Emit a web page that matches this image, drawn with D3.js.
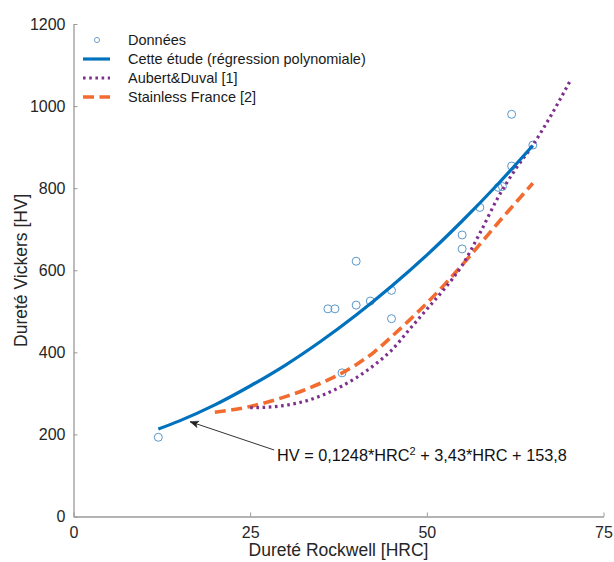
<!DOCTYPE html>
<html>
<head>
<meta charset="utf-8">
<script src="https://cdn.jsdelivr.net/npm/d3@7"></script>
<style>
  html, body { margin: 0; padding: 0; background: #fff; }
  svg { display: block; font-family: "Liberation Sans", Arial, sans-serif; }
</style>
</head>
<body>
<svg id="chart" width="614" height="562"></svg>
<script>
// ---- Data ----
const dataHRC = [12, 36, 37, 38, 40, 40, 42, 45, 45, 55, 55, 57.5, 60.1, 60.7, 62, 62, 65];
const dataHV  = [193, 506, 506, 350, 622, 515, 525, 551, 482, 686, 652, 753, 802, 804, 854, 980, 905];

// Cette étude (régression polynomiale)
const fitHRC = [12, 15, 20, 25, 30, 35, 40, 45, 50, 55, 60, 65];
const fitHV  = [213, 233, 272, 318, 369, 427, 491, 561, 637, 720, 809, 904];

// Aubert&Duval [1]
const adHRC = [25, 28, 30, 33, 35, 38, 40, 43, 45, 47.5, 50, 52.5, 55, 57.5, 60, 62.5, 65, 67.5, 70.2];
const adHV  = [265, 267, 271, 282, 294, 318, 338, 375, 405, 455, 505, 555, 612, 690, 775, 845, 905, 975, 1059];

// Stainless France [2]
const sfHRC = [20, 22.5, 25, 27.5, 30, 32.5, 35, 37.5, 40, 42.5, 45, 47.5, 50, 52.5, 55, 57.5, 60, 62.5, 65];
const sfHV  = [254, 260, 268, 279, 292, 307, 325, 345, 370, 400, 438, 478, 520, 565, 613, 663, 714, 763, 812];

const xTicks = [0, 25, 50, 75];
const yTicks = [0, 200, 400, 600, 800, 1000, 1200];

const legendLabels = ["Données", "Cette étude (régression polynomiale)", "Aubert&Duval [1]", "Stainless France [2]"];
const xLabel = "Dureté Rockwell [HRC]";
const yLabel = "Dureté Vickers [HV]";
const annotation = { hrcTip: 16.5, hvTip: 231, hrcStart: 28.4, hvStart: 162 };

// ---- Chart ----
const svg = d3.select("#chart");
const x = d3.scaleLinear().domain([0, 75]).range([73.5, 603.5]);
const y = d3.scaleLinear().domain([0, 1200]).range([516.5, 24]);

const axisColor = "#9a9a9a";
const textColor = "#262626";

// X axis
const gx = svg.append("g").attr("transform", `translate(0,${y(0)})`)
  .call(d3.axisBottom(x).tickValues(xTicks).tickFormat(d3.format("d")).tickSizeInner(-4).tickSizeOuter(0).tickPadding(10));
// Y axis
const gy = svg.append("g").attr("transform", `translate(${x(0)},0)`)
  .call(d3.axisLeft(y).tickValues(yTicks).tickFormat(d3.format("d")).tickSizeInner(-4).tickSizeOuter(0).tickPadding(8));

[gx, gy].forEach(g => {
  g.select(".domain").attr("stroke", axisColor).attr("stroke-width", 1.3);
  g.selectAll(".tick line").attr("stroke", axisColor).attr("stroke-width", 1);
  g.selectAll(".tick text").attr("fill", textColor).style("font-size", "16px")
    .style("font-family", "'Liberation Sans', Arial, sans-serif");
});

// Axis labels
svg.append("text").attr("x", (x(0) + x(75)) / 2).attr("y", 556)
  .attr("text-anchor", "middle").attr("fill", textColor).style("font-size", "17.5px").text(xLabel);
svg.append("text").attr("transform", `translate(27,${(y(0) + y(1200)) / 2}) rotate(-90)`)
  .attr("text-anchor", "middle").attr("fill", textColor).style("font-size", "17.5px").text(yLabel);

// Lines
const line = (xs, ys) => d3.line().curve(d3.curveMonotoneX)
  .x((d, i) => x(xs[i])).y((d, i) => y(ys[i]))(xs);

const fitStyle = { stroke: "#0072BD", width: 3.2, dash: null, cap: "butt" };
const adStyle = { stroke: "#7E2F8E", width: 3.2, dash: "2.6,3.6", cap: "butt" };
const sfStyle = { stroke: "#F26B2F", width: 3.6, dash: "11,5.5", cap: "butt" };

function drawPath(d, s) {
  const p = svg.append("path").attr("d", d).attr("fill", "none")
    .attr("stroke", s.stroke).attr("stroke-width", s.width).attr("stroke-linecap", s.cap);
  if (s.dash) p.attr("stroke-dasharray", s.dash);
  return p;
}

// Data points
svg.append("g").selectAll("circle").data(dataHRC).join("circle")
  .attr("cx", (d, i) => x(dataHRC[i])).attr("cy", (d, i) => y(dataHV[i]))
  .attr("r", 4).attr("fill", "none").attr("stroke", "#5a97c9").attr("stroke-width", 1);

drawPath(line(sfHRC, sfHV), sfStyle);
drawPath(line(adHRC, adHV), adStyle);
drawPath(line(fitHRC, fitHV), fitStyle);

// Annotation arrow
const ax0 = x(annotation.hrcStart), ay0 = y(annotation.hvStart);
const ax1 = x(annotation.hrcTip), ay1 = y(annotation.hvTip);
svg.append("line").attr("x1", ax0).attr("y1", ay0).attr("x2", ax1).attr("y2", ay1)
  .attr("stroke", "#333").attr("stroke-width", 1);
const ang = Math.atan2(ay0 - ay1, ax0 - ax1);
const hl = 9, hw = 0.38;
const hp = [
  [ax1 + hl * Math.cos(ang + hw), ay1 + hl * Math.sin(ang + hw)],
  [ax1, ay1],
  [ax1 + hl * Math.cos(ang - hw), ay1 + hl * Math.sin(ang - hw)],
  [ax1 + hl * 0.7 * Math.cos(ang), ay1 + hl * 0.7 * Math.sin(ang)]
];
svg.append("path").attr("d", "M" + hp.map(p => p.join(",")).join("L") + "Z")
  .attr("fill", "#222").attr("stroke", "#222").attr("stroke-width", 0.6);

const ann = svg.append("text").attr("x", 277).attr("y", 461).attr("fill", "#111").style("font-size", "16.3px");
ann.append("tspan").text("HV = 0,1248*HRC");
ann.append("tspan").attr("dy", -6).style("font-size", "11px").text("2");
ann.append("tspan").attr("dy", 6).text(" + 3,43*HRC + 153,8");

// Legend
const legY = [40, 59, 78, 97];
const lg = svg.append("g");
lg.append("circle").attr("cx", 97).attr("cy", legY[0]).attr("r", 2.6)
  .attr("fill", "none").attr("stroke", "#6fa3d0").attr("stroke-width", 1);
[fitStyle, adStyle, sfStyle].forEach((s, i) => {
  const p = lg.append("line").attr("x1", 83).attr("x2", 110).attr("y1", legY[i + 1]).attr("y2", legY[i + 1])
    .attr("stroke", s.stroke).attr("stroke-width", s.width).attr("stroke-linecap", s.cap);
  if (s.dash) p.attr("stroke-dasharray", s.dash);
});
legendLabels.forEach((t, i) => {
  lg.append("text").attr("x", 128).attr("y", legY[i]).attr("dy", "0.35em")
    .attr("fill", "#1a1a1a").style("font-size", "14.5px").text(t);
});
</script>
</body>
</html>
